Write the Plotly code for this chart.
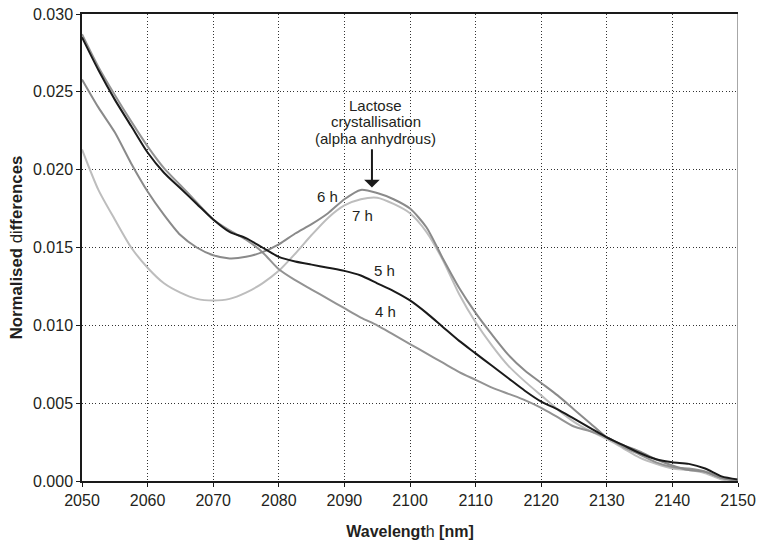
import plotly.graph_objects as go

wavelength = [2050 + 2.5 * i for i in range(41)]

h5 = [0.0285, 0.0264, 0.0245, 0.0228, 0.0211, 0.0198, 0.0188, 0.0178, 0.0168, 0.0160,
      0.0156, 0.0150, 0.0144, 0.0141, 0.0139, 0.0137, 0.0135, 0.0132, 0.0127, 0.0122,
      0.0116, 0.0108, 0.0099, 0.0090, 0.0082, 0.0074, 0.0066, 0.0058, 0.0051, 0.0046,
      0.0040, 0.0034, 0.0028, 0.0023, 0.0018, 0.0014, 0.0012, 0.0011, 0.0008, 0.0003, 0.0001]

h4 = [0.0287, 0.0266, 0.0248, 0.0231, 0.0215, 0.0201, 0.0190, 0.0179, 0.0168, 0.0161,
      0.0155, 0.0147, 0.0136, 0.0129, 0.0123, 0.0117, 0.0111, 0.0105, 0.0100, 0.0094,
      0.0088, 0.0082, 0.0076, 0.0070, 0.0065, 0.0060, 0.0056, 0.0052, 0.0047, 0.0041,
      0.0035, 0.0032, 0.0028, 0.0022, 0.0017, 0.0012, 0.0009, 0.0008, 0.0006, 0.0002, 0.0000]

h6 = [0.0258, 0.0240, 0.0224, 0.0204, 0.0186, 0.0171, 0.0158, 0.0150, 0.0145, 0.0143,
      0.0144, 0.0147, 0.0152, 0.0159, 0.0165, 0.0172, 0.0181, 0.0187, 0.0185, 0.0181,
      0.0175, 0.0163, 0.0143, 0.0124, 0.0108, 0.0094, 0.0081, 0.0071, 0.0063, 0.0055,
      0.0046, 0.0037, 0.0028, 0.0023, 0.0019, 0.0014, 0.0010, 0.0007, 0.0006, 0.0002, 0.0000]

h7 = [0.0213, 0.0187, 0.0168, 0.0150, 0.0137, 0.0127, 0.0121, 0.0117, 0.0116, 0.0117,
      0.0121, 0.0127, 0.0135, 0.0146, 0.0158, 0.0169, 0.0177, 0.0181, 0.0182, 0.0178,
      0.0172, 0.0160, 0.0142, 0.0120, 0.0102, 0.0087, 0.0074, 0.0064, 0.0055, 0.0046,
      0.0038, 0.0032, 0.0027, 0.0021, 0.0015, 0.0011, 0.0008, 0.0007, 0.0005, 0.0001, 0.0000]

x_ticks = [2050, 2060, 2070, 2080, 2090, 2100, 2110, 2120, 2130, 2140, 2150]
y_ticks = [0.000, 0.005, 0.010, 0.015, 0.020, 0.025, 0.030]

series = [
    ("7 h", h7, "#bdbdbd"),
    ("4 h", h4, "#939393"),
    ("6 h", h6, "#8a8a8a"),
    ("5 h", h5, "#1a1a1a"),
]

labels = [
    ("6 h", 2087.4, 0.01826),
    ("7 h", 2092.8, 0.01704),
    ("5 h", 2096.1, 0.01350),
    ("4 h", 2096.2, 0.01086),
]

note_lines = ["Lactose", "crystallisation", "(alpha anhydrous)"]

FONT = "Liberation Sans, Arial, sans-serif"
TXT = "#231f20"

fig = go.Figure()
for name, vals, col in series:
    fig.add_trace(go.Scatter(x=wavelength, y=vals, mode="lines", name=name,
                             line=dict(color=col, width=2, shape="spline", smoothing=0.7),
                             showlegend=False, hoverinfo="skip"))

for txt, lx, ly in labels:
    fig.add_annotation(x=lx, y=ly, text=txt, showarrow=False,
                       font=dict(family=FONT, size=15, color=TXT))

note_y = [0.02415, 0.02308, 0.02203]
for line, ny in zip(note_lines, note_y):
    fig.add_annotation(x=2094.8, y=ny, text=line, showarrow=False,
                       font=dict(family=FONT, size=15, color=TXT))

fig.add_annotation(x=2094.2, y=0.01885, ax=2094.2, ay=0.02140, axref="x", ayref="y",
                   text="", showarrow=True, arrowhead=1, arrowsize=1.3, arrowwidth=2,
                   arrowcolor="#1a1a1a", standoff=0)

grid = dict(showgrid=True, gridcolor="#333333", gridwidth=1, griddash="1px,2.3px")

fig.update_layout(
    width=759, height=541,
    margin=dict(l=82, r=21, t=14, b=60),
    paper_bgcolor="white", plot_bgcolor="white",
    font=dict(family=FONT, size=16, color=TXT),
    xaxis=dict(range=[2050, 2150], tickvals=x_ticks, ticktext=[str(v) for v in x_ticks],
               ticks="outside", ticklen=4, tickcolor="#1a1a1a",
               showline=True, linecolor="#1a1a1a", linewidth=1.5, mirror=True,
               zeroline=False, automargin=False,
               title=dict(text="<b>Wavelengt</b>h<b> [nm]</b>", standoff=18,
                          font=dict(family=FONT, size=16, color=TXT)),
               **grid),
    yaxis=dict(range=[0, 0.030], tickvals=y_ticks, tickformat=".3f",
               ticks="outside", ticklen=4, tickcolor="#1a1a1a",
               showline=True, linecolor="#1a1a1a", linewidth=1.5,
               zeroline=False, automargin=False,
               title=dict(text="<b>Normalised </b>di<b>fferences</b>", standoff=6,
                          font=dict(family=FONT, size=16.8, color=TXT)),
               **grid),
)

fig.add_shape(type="line", xref="x", yref="y", x0=2150, x1=2150, y0=0, y1=0.030,
              line=dict(color="#8a8a8a", width=1.5))

fig.write_html("out.html")
